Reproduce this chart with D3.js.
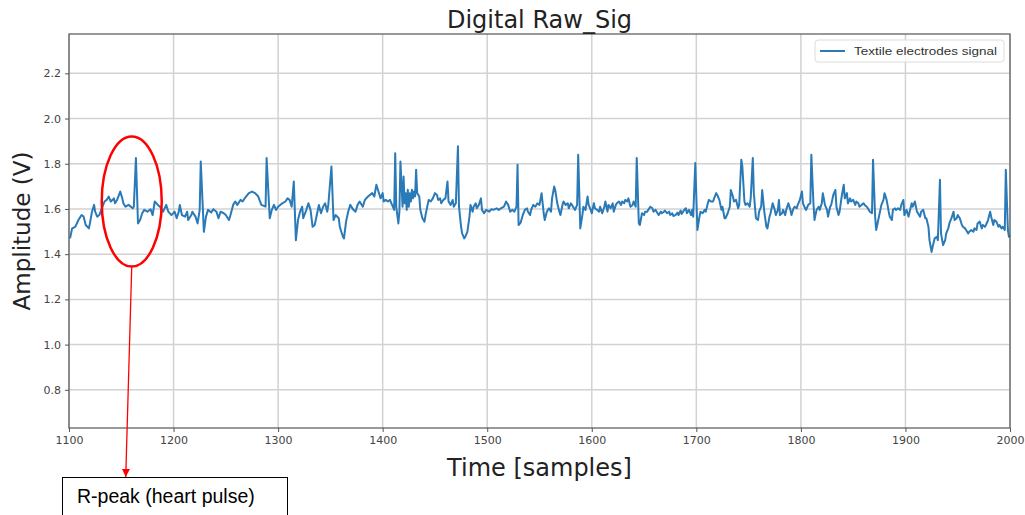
<!DOCTYPE html>
<html>
<head>
<meta charset="utf-8">
<script src="https://cdn.jsdelivr.net/npm/d3@7"></script>
<style>
  html, body { margin: 0; padding: 0; background: #fff; }
  svg { display: block; }
</style>
</head>
<body>
<svg id="chart" width="1025" height="515"></svg>
<script>
// ---- data ----
const chartTitle = "Digital Raw_Sig";
const xLabel = "Time [samples]";
const yLabel = "Amplitude (V)";
const seriesName = "Textile electrodes signal";
const xTicks = [1100, 1200, 1300, 1400, 1500, 1600, 1700, 1800, 1900, 2000];
const yTicks = [0.8, 1.0, 1.2, 1.4, 1.6, 1.8, 2.0, 2.2];
const annotationText = "R-peak (heart pulse)";
const annotationSample = 1160;   // centre of the circled R-peak
const annotationValue = 1.633;

const samples = [
 1101,1103,1106,1109,1112,1114,1116,1119,1120,1122,1124,1125,1127,1129,1132,1134,1136,1138,1140,1143,
 1144,1146,1149,1151,1152,1154,1157,1161,1162,1164,1166,1168,1170,1172,1175,1178,1180,1182,1185,1187,
 1190,1193,1195,1198,1201,1203,1205,1206,1208,1211,1213,1214,1217,1218,1221,1223,1225,1226,1229,1231,
 1233,1236,1238,1241,1243,1245,1248,1250,1253,1254,1257,1259,1261,1264,1266,1268,1272,1275,1278,1281,
 1284,1288,1289,1292,1294,1296,1298,1300,1304,1307,1309,1311,1313,1315,1317,1319,1321,1323,1324,1327,
 1329,1331,1333,1335,1337,1339,1341,1343,1345,1347,1348,1351,1353,1355,1358,1359,1362,1363,1365,1367,
 1369,1372,1374,1376,1378,1381,1383,1386,1390,1392,1394,1397,
 1398,1400,1401,1403,1405,1407,1409,1411,1412,1413,1415,1416,1417,1419,1420,1421,1422,1423,1424,1425,
 1426,1427,1428,1429,1430,1431,1432,1433,1435,1436,1438,1440,1441,1443,1444,1446,1448,1450,1452,1453,
 1455,1456,1458,1460,1462,1463,1465,1467,1468,1470,1472,1473,1475,1476,1478,1479,1481,1483,1484,1486,
 1487,1489,1490,1492,1494,1495,1497,1499,1502,1504,1506,1509,1511,1513,1516,1518,1520,1522,1524,1526,
 1528,1529,1530,1532,1534,1536,1538,1539,1541,1542,1544,1546,1548,1550,1552,1554,1555,1557,1559,1561,
 1562,1564,1565,1567,1569,1570,1572,1573,1575,1577,1578,1580,1581,1583,1584,1586,1587,1589,1591,1592,
 1594,1596,1597,1599,1600,1602,1603,1605,1607,1608,1610,1612,1613,1615,1616,1618,1620,1621,1623,1624,
 1626,1628,1629,1631,1632,1634,1635,1637,1639,1640,1642,1643,1645,1646,1648,1650,1651,1653,1654,1656,
 1658,1659,1661,1662,1664,1666,1667,1669,1670,1672,1674,1675,1677,1678,1680,1682,1683,1685,1686,1688,
 1690,1691,1693,1695,1696,1697,1699,1701,
 1703,1704,1706,1708,1709,1711,1712,1714,1716,1717,1719,1720,1722,1724,1725,1727,1728,1730,1732,1733,
 1735,1736,1738,1740,1741,1743,1744,1746,1747,1749,1751,1752,1754,1755,1757,1759,1760,1762,1763,1765,
 1767,1768,1770,1771,1773,1775,1776,1778,1779,1780,1782,1783,1785,1786,1788,1790,1791,1793,1794,1796,
 1797,1799,1801,1802,1804,1805,1807,1809,1810,1812,1813,1815,1817,1818,1820,1821,1823,1825,1826,1828,
 1829,1831,1833,1834,1836,1837,1839,1841,1842,1844,1845,1847,1848,1850,1852,1853,1855,1856,1858,1860,
 1861,1863,1864,1866,1868,1869,1871,1872,1874,1876,1877,1879,1880,1882,1884,1885,1887,1888,1890,1891,
 1893,1895,1896,1898,1899,1901,1903,1904,1906,1907,1909,1911,1912,1914,1915,1917,1919,1920,1922,1923,
 1925,1926,1928,1930,1931,1933,1934,1936,1938,1939,1941,1942,1944,1946,1947,1949,1950,1952,1954,1955,
 1957,1958,1960,1961,1963,1965,1966,1968,1969,1971,1973,1974,1976,1977,1979,1981,1982,1984,1985,1987,
 1989,1990,1992,1993,1995,1996,1998,1999,2000
];
const amplitude = [
 1.470,1.514,1.521,1.551,1.573,1.566,1.529,1.514,1.536,1.588,1.618,1.588,1.566,1.573,1.610,1.633,1.640,1.655,1.633,1.647,
 1.625,1.640,1.677,1.647,1.625,1.610,1.618,1.603,1.610,1.825,1.536,1.551,1.581,1.596,1.588,1.599,1.573,1.633,1.618,1.610,
 1.588,1.618,1.588,1.573,1.588,1.559,1.588,1.618,1.573,1.566,1.588,1.551,1.573,1.588,1.566,1.536,1.596,1.810,1.499,1.566,
 1.596,1.584,1.599,1.588,1.559,1.588,1.581,1.573,1.551,1.566,1.618,1.633,1.618,1.640,1.633,1.647,1.670,1.677,1.670,1.655,
 1.618,1.610,1.825,1.559,1.596,1.618,1.596,1.610,1.625,1.633,1.647,1.640,1.610,1.721,1.462,1.551,1.588,1.610,1.559,1.596,
 1.625,1.596,1.521,1.529,1.573,1.618,1.581,1.610,1.625,1.588,1.618,1.788,1.551,1.573,1.559,1.521,1.477,1.470,1.544,1.588,
 1.618,1.596,1.588,1.618,1.633,1.610,1.640,1.655,1.670,1.655,1.707,1.662,
 1.647,1.670,1.633,1.640,1.633,1.640,1.618,1.596,1.847,1.610,1.536,1.588,1.810,1.610,1.744,1.625,1.670,1.596,1.685,1.610,
 1.670,1.633,1.685,1.647,1.677,1.655,1.773,1.670,1.655,1.596,1.559,1.544,1.573,1.618,1.640,1.633,1.647,1.670,1.662,1.640,
 1.647,1.625,1.640,1.647,1.721,1.633,1.618,1.640,1.610,1.625,1.877,1.610,1.521,1.492,1.470,1.477,1.499,1.566,1.618,1.588,
 1.610,1.625,1.603,1.618,1.647,1.596,1.581,1.596,1.588,1.599,1.596,1.603,1.596,1.603,1.610,1.633,1.618,1.588,1.596,1.588,
 1.610,1.796,1.529,1.540,1.573,1.596,1.603,1.588,1.573,1.596,1.618,1.610,1.625,1.618,1.670,1.581,1.551,1.588,1.603,1.588,
 1.647,1.699,1.684,1.625,1.588,1.573,1.618,1.633,1.618,1.625,1.603,1.625,1.618,1.603,1.596,1.618,1.840,1.514,1.573,1.610,
 1.596,1.655,1.618,1.596,1.581,1.625,1.603,1.596,1.588,1.610,1.581,1.610,1.633,1.588,1.618,1.603,1.625,1.588,1.618,1.625,
 1.633,1.618,1.633,1.625,1.640,1.633,1.647,1.610,1.618,1.633,1.610,1.825,1.536,1.529,1.581,1.573,1.588,1.588,1.596,1.610,
 1.603,1.588,1.596,1.588,1.573,1.588,1.581,1.588,1.593,1.581,1.588,1.573,1.581,1.569,1.573,1.584,1.573,1.593,1.578,1.593,
 1.603,1.581,1.596,1.573,1.596,1.566,1.803,1.507,
 1.566,1.588,1.581,1.596,1.588,1.625,1.640,1.633,1.633,1.647,1.670,1.662,1.640,1.596,1.610,1.559,1.559,1.581,1.610,1.684,
 1.655,1.633,1.640,1.603,1.618,1.818,1.788,1.633,1.618,1.625,1.610,1.647,1.825,1.670,1.559,1.551,1.588,1.610,1.684,1.588,
 1.521,1.514,1.566,1.581,1.625,1.596,1.573,1.596,1.640,1.573,1.581,1.596,1.573,1.596,1.625,1.596,1.573,1.603,1.610,1.603,
 1.618,1.640,1.677,1.625,1.603,1.596,1.618,1.625,1.840,1.625,1.551,1.596,1.610,1.596,1.625,1.670,1.618,1.596,1.566,1.610,
 1.618,1.662,1.684,1.610,1.573,1.588,1.655,1.707,1.647,1.670,1.625,1.647,1.633,1.640,1.618,1.633,1.625,1.610,1.618,1.625,
 1.618,1.610,1.603,1.588,1.581,1.818,1.566,1.507,1.551,1.596,1.618,1.640,1.670,1.640,1.588,1.566,1.551,1.596,1.603,1.596,
 1.603,1.596,1.618,1.640,1.573,1.596,1.566,1.588,1.625,1.610,1.633,1.588,1.581,1.566,1.588,1.596,1.559,1.559,1.521,1.462,
 1.410,1.433,1.470,1.477,1.462,1.729,1.492,1.440,1.462,1.492,1.514,1.536,1.559,1.588,1.551,1.559,1.573,1.559,1.529,1.521,
 1.514,1.507,1.492,1.499,1.507,1.499,1.514,1.507,1.536,1.544,1.514,1.529,1.521,1.529,1.551,1.588,1.566,1.529,1.551,1.544,
 1.521,1.529,1.514,1.521,1.507,1.773,1.507,1.477,1.484
];

// ---- layout ----
const svg = d3.select("#chart");
const W = 1025, H = 515;
const m = { left: 69, right: 1010, top: 34, bottom: 428 };

const x = d3.scaleLinear().domain([1100, 2000]).range([m.left, m.right]);
const y = d3.scaleLinear().domain([0.631, 2.374]).range([m.bottom, m.top]);

const data = samples.map((s, i) => ({ s, v: amplitude[i] }));

svg.append("rect").attr("width", W).attr("height", H).attr("fill", "#fff");

// grid
const grid = svg.append("g");
grid.selectAll("line.vx").data(xTicks).join("line")
  .attr("x1", d => x(d)).attr("x2", d => x(d))
  .attr("y1", m.top).attr("y2", m.bottom)
  .attr("stroke", "#d2d2d2").attr("stroke-width", 1.5);
grid.selectAll("line.hy").data(yTicks).join("line")
  .attr("x1", m.left).attr("x2", m.right)
  .attr("y1", d => y(d)).attr("y2", d => y(d))
  .attr("stroke", "#d2d2d2").attr("stroke-width", 1.5);

// line
const line = d3.line().x(d => x(d.s)).y(d => y(d.v));
svg.append("path").datum(data)
  .attr("d", line)
  .attr("fill", "none")
  .attr("stroke", "#2a7ab8")
  .attr("stroke-width", 2)
  .attr("stroke-linejoin", "round");

// axes
const xAxis = d3.axisBottom(x).tickValues(xTicks).tickFormat(d3.format("d")).tickSize(4).tickPadding(4);
const yAxis = d3.axisLeft(y).tickValues(yTicks).tickFormat(d3.format(".1f")).tickSize(4).tickPadding(4);

const gx = svg.append("g").attr("transform", `translate(0,${m.bottom})`).call(xAxis);
const gy = svg.append("g").attr("transform", `translate(${m.left},0)`).call(yAxis);
[gx, gy].forEach(g => {
  g.select(".domain").remove();
  g.selectAll(".tick line").attr("stroke", "#555").attr("stroke-width", 1);
  g.selectAll(".tick text").attr("fill", "#444")
    .style("font-family", "'DejaVu Sans', sans-serif").style("font-size", "11px");
});

// frame
svg.append("rect")
  .attr("x", m.left).attr("y", m.top)
  .attr("width", m.right - m.left).attr("height", m.bottom - m.top)
  .attr("fill", "none").attr("stroke", "#555").attr("stroke-width", 1.2);

// titles
svg.append("text").attr("x", (m.left + m.right) / 2).attr("y", 28)
  .attr("text-anchor", "middle")
  .style("font-family", "'DejaVu Sans', sans-serif").style("font-size", "24px")
  .attr("fill", "#222").text(chartTitle);
svg.append("text").attr("x", (m.left + m.right) / 2).attr("y", 476)
  .attr("text-anchor", "middle")
  .style("font-family", "'DejaVu Sans', sans-serif").style("font-size", "24px")
  .attr("fill", "#222").text(xLabel);
svg.append("text")
  .attr("transform", `translate(30,${(m.top + m.bottom) / 2}) rotate(-90)`)
  .attr("text-anchor", "middle")
  .style("font-family", "'DejaVu Sans', sans-serif").style("font-size", "23px")
  .attr("fill", "#222").text(yLabel);

// legend
const lg = svg.append("g");
lg.append("rect").attr("x", 815).attr("y", 40).attr("width", 189).attr("height", 22)
  .attr("rx", 3).attr("fill", "#fff").attr("fill-opacity", 0.85)
  .attr("stroke", "#dcdcdc").attr("stroke-width", 1);
lg.append("line").attr("x1", 820).attr("x2", 845).attr("y1", 51).attr("y2", 51)
  .attr("stroke", "#2a7ab8").attr("stroke-width", 2);
lg.append("text").attr("x", 854).attr("y", 55)
  .style("font-family", "'Liberation Sans', Arial, sans-serif").style("font-size", "11.5px")
  .attr("textLength", 143).attr("lengthAdjust", "spacingAndGlyphs")
  .attr("fill", "#333").text(seriesName);

// annotation: ellipse around R-peak, arrow, label box
const ann = svg.append("g");
const cx = x(annotationSample), cy = y(annotationValue);
const rx = x(annotationSample + 28.7) - cx, ry = y(annotationValue - 0.288) - cy;
ann.append("ellipse").attr("cx", cx).attr("cy", cy).attr("rx", rx).attr("ry", ry)
  .attr("fill", "none").attr("stroke", "#ff0000").attr("stroke-width", 2.5);

svg.append("defs").append("marker")
  .attr("id", "arrowhead").attr("viewBox", "0 0 10 10")
  .attr("refX", 10).attr("refY", 5)
  .attr("markerWidth", 8).attr("markerHeight", 9)
  .attr("markerUnits", "userSpaceOnUse")
  .attr("orient", "auto")
  .append("path").attr("d", "M0,0 L10,5 L0,10 Z").attr("fill", "#ff0000");
ann.append("line")
  .attr("x1", cx).attr("y1", cy + ry)
  .attr("x2", cx - 6).attr("y2", 477)
  .attr("stroke", "#ff0000").attr("stroke-width", 1.3)
  .attr("marker-end", "url(#arrowhead)");

ann.append("rect").attr("x", 62.5).attr("y", 477.5).attr("width", 225).attr("height", 50)
  .attr("fill", "#fff").attr("stroke", "#000").attr("stroke-width", 1);
ann.append("text").attr("x", 77).attr("y", 503)
  .style("font-family", "'Liberation Sans', Arial, sans-serif").style("font-size", "19.5px")
  .attr("fill", "#000").text(annotationText);
</script>
</body>
</html>
